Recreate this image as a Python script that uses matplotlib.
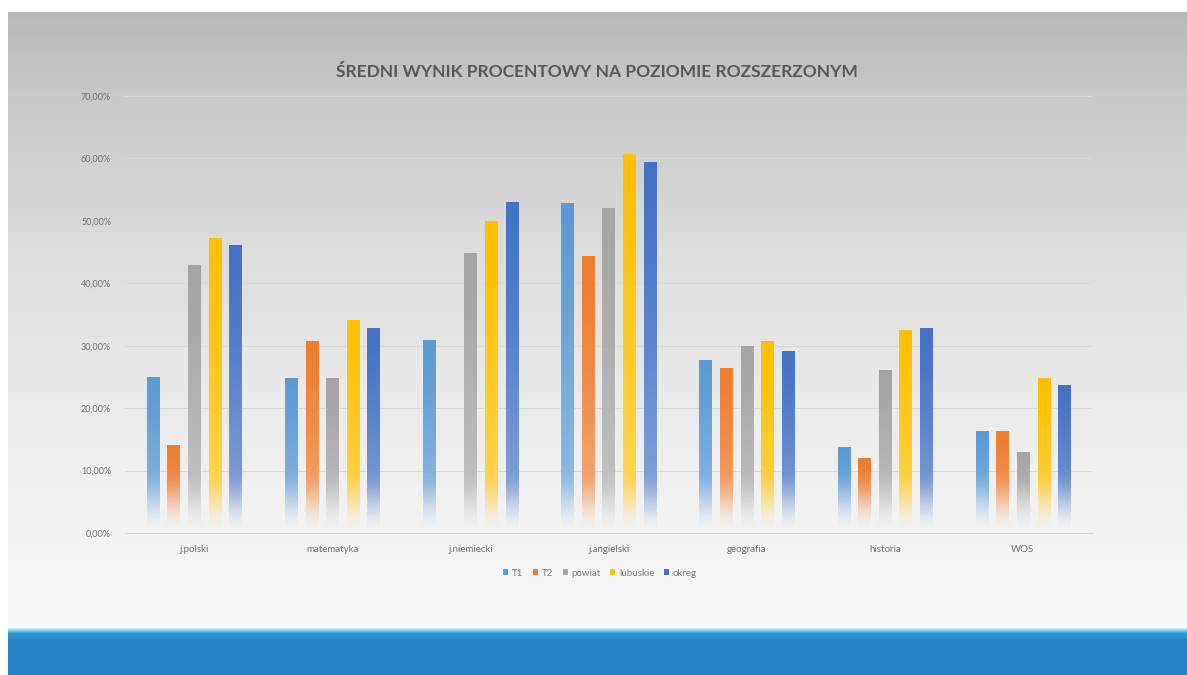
import numpy as np
import matplotlib
matplotlib.use("Agg")
from matplotlib import pyplot as plt
from matplotlib.patches import Patch
from matplotlib.ticker import FuncFormatter, MultipleLocator
from matplotlib.colors import to_rgb

# data (percent)
categories = ["j.polski", "matematyka", "j.niemiecki", "j.angielski", "geografia", "historia", "WOS"]
series_names = ["T1", "T2", "powiat", "lubuskie", "okreg"]
t1 = [25.0, 24.8, 30.9, 52.8, 27.7, 13.8, 16.4]
t2 = [14.1, 30.7, 0.0, 44.3, 26.5, 12.0, 16.4]
powiat = [42.9, 24.8, 44.8, 52.0, 30.0, 26.1, 12.9]
lubuskie = [47.2, 34.1, 49.9, 60.7, 30.7, 32.5, 24.9]
okreg = [46.1, 32.9, 53.1, 59.4, 29.2, 32.8, 23.7]
series = [t1, t2, powiat, lubuskie, okreg]
colors = ["#5b9bd5", "#ed7d31", "#a5a5a5", "#ffc000", "#4472c4"]

plt.rcParams['font.family'] = ['Lato', 'DejaVu Sans']

W, H = 1187, 675
fig = plt.figure(figsize=(W / 100, H / 100), dpi=100, facecolor="white")

# slide background: grey gradient + blue band at the bottom
bg = fig.add_axes([8 / W, 0, 1 - 8 / W, (H - 12) / H])
bg.set_axis_off()
rows = np.arange(12, H)
stops_y = [12, 100, 250, 400, 530, 600, 627, 629, 633, 640, 675]
stops_c = ["#b8b8b8", "#c9c9c9", "#dddddd", "#ebebeb", "#f3f3f3", "#f8f8f8",
           "#f8f8f8", "#9fdcf0", "#2a98d5", "#2783c6", "#2783c6"]
stops_rgb = np.array([to_rgb(c) for c in stops_c])
grad = np.stack([np.interp(rows, stops_y, stops_rgb[:, k]) for k in range(3)], axis=1)
bg.imshow(grad[:, None, :], aspect="auto", extent=[0, 1, 0, 1], origin="upper")
bg.set_xlim(0, 1)
bg.set_ylim(0, 1)

ax = fig.add_axes([125 / W, (H - 533) / H, (1092 - 125) / W, (533 - 96) / H])
ax.set_facecolor("none")

x = np.arange(len(categories))
step = 0.149
width = 0.087
N = 512
for i, (name, vals, col) in enumerate(zip(series_names, series, colors)):
    v = np.array(vals) / 100
    bars = ax.bar(x + (i - 2) * step, v, width, color="none", zorder=3)
    base = np.array(to_rgb(col))
    for rect, h in zip(bars, v):
        if h <= 0:
            continue
        k = np.linspace(0, 1, N)
        t = np.clip(h * k / 0.10, 0, 1)
        alpha = t * t * (3 - 2 * t)
        mix = 0.40 * (1 - k) ** 1.4
        rgb = base[None, :] * (1 - mix[:, None]) + mix[:, None]
        arr = np.concatenate([rgb, alpha[:, None]], axis=1)[:, None, :]
        x0 = rect.get_x()
        im = ax.imshow(arr, extent=[x0, x0 + rect.get_width(), 0, h], origin="lower",
                       aspect="auto", zorder=3, interpolation="bilinear")
        im.set_clip_path(rect)

ax.set_xlim(-0.5, len(categories) - 0.5)
ax.set_ylim(0, 0.70)
ax.yaxis.set_major_locator(MultipleLocator(0.10))
ax.yaxis.set_major_formatter(FuncFormatter(lambda v, p: f"{v * 100:.2f}%".replace(".", ",")))
ax.grid(axis="y", color="#d9d9d9", linewidth=0.7, zorder=0)
ax.set_axisbelow(True)
for s in ["top", "right", "left"]:
    ax.spines[s].set_visible(False)
ax.spines["bottom"].set_color("#d4d4d4")
ax.spines["bottom"].set_linewidth(0.8)
ax.set_xticks(x)
ax.set_xticklabels(categories)
ax.tick_params(axis="both", length=0, labelsize=6.5, colors="#6f6f6f")
ax.tick_params(axis="y", pad=10)
ax.tick_params(axis="x", pad=9, labelsize=7)

fig.text(597 / W, 1 - 72 / H, "ŚREDNI WYNIK PROCENTOWY NA POZIOMIE ROZSZERZONYM",
         ha="center", va="center", fontsize=12.5, fontweight="bold", color="#595959")

handles = [Patch(facecolor=c, edgecolor="none") for c in colors]
fig.legend(handles, series_names, loc="center", bbox_to_anchor=(600 / W, 1 - 573 / H),
           ncol=5, frameon=False, fontsize=7, handlelength=0.5, handleheight=0.5,
           handletextpad=0.4, columnspacing=1.0, labelcolor="#7a7a7a")

fig.savefig("out.png", dpi=100, facecolor=fig.get_facecolor())
